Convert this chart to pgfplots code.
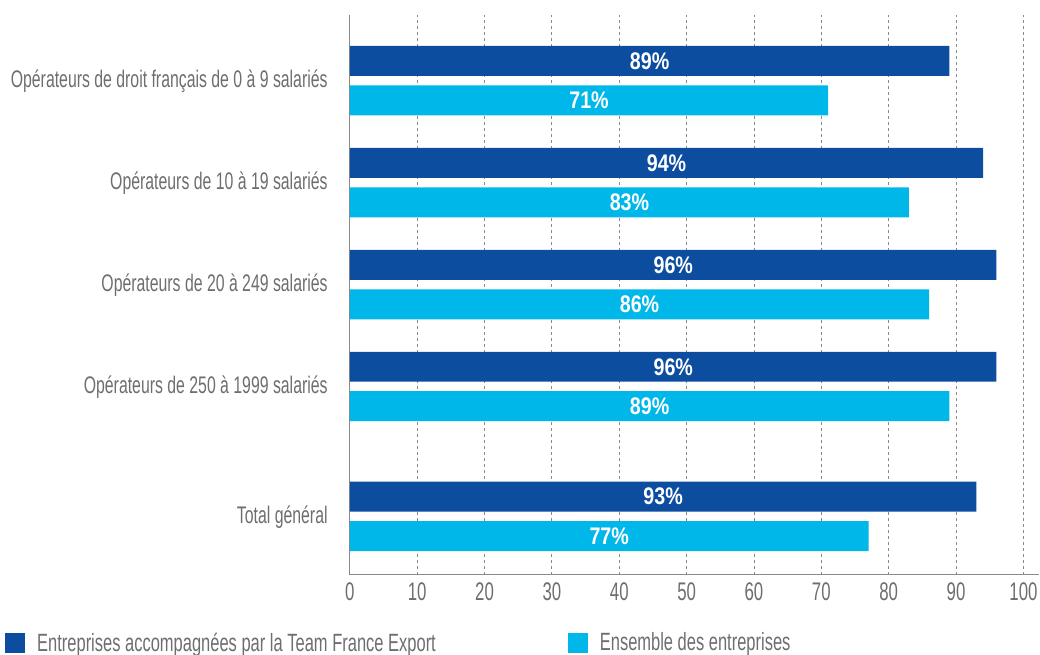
\documentclass[border=0pt]{standalone}
\usepackage{fontspec}
\setmainfont{Liberation Sans}[FakeStretch=0.66]
\newfontfamily\lblfont{Liberation Sans}[FakeStretch=0.82]
\usepackage{pgfplots}
\pgfplotsset{compat=1.18}
\definecolor{dblue}{HTML}{0C4DA0}
\definecolor{lblue}{HTML}{00B7EA}
\definecolor{tgray}{HTML}{6D6E70}
\definecolor{agray}{HTML}{8A8A8A}
\newcommand{\bigf}{\fontsize{24pt}{28pt}\selectfont}
\newcommand{\tickf}{\fontsize{25.5pt}{28pt}\selectfont}
\newcommand{\legf}{\fontsize{25pt}{28pt}\selectfont}
\begin{document}
\begin{tikzpicture}
\begin{axis}[
  at={(0,0)}, anchor=south west,
  xbar, scale only axis, width=690pt, height=560pt,
  xmin=0, xmax=102.37, ymin=-0.5686, ymax=4.922,
  axis lines=left,
  axis line style={-, draw=agray, line width=1.2pt},
  xtick={0,10,...,100}, major tick length=0pt,
  xmajorgrids, grid style={dashed, agray, line width=0.9pt},
  ytick={4.275,3.275,2.275,1.275,0},
  yticklabels={Opérateurs de droit français de 0 à 9 salariés,Opérateurs de 10 à 19 salariés,Opérateurs de 20 à 249 salariés,Opérateurs de 250 à 1999 salariés,Total général},
  /pgf/number format/assume math mode=true,
  yticklabel style={font=\bigf, text=tgray, inner sep=0pt},
  xticklabel style={font=\tickf, text=tgray, inner sep=0pt},
  yticklabel shift=22pt,
  xticklabel shift=8pt,
  bar width=30pt,
  point meta=x,
  visualization depends on={rawx \as \rawx},
  nodes near coords={\pgfmathprintnumber{\pgfplotspointmeta}\%},
  every node near coord/.append style={anchor=center, xshift={-3.369pt*\rawx}, font=\lblfont\bfseries\fontsize{24pt}{26pt}\selectfont, text=white, inner sep=0pt},
  legend columns=2,
  legend cell align=left,
  legend image code/.code={\fill[#1, draw=none] (0pt,-10pt) rectangle (20pt,10pt); \path (32pt,0pt);},
  legend style={at={(-0.5,-0.1214)}, anchor=west, draw=none, fill=none, inner sep=0pt, font=\legf, text=tgray, nodes={inner sep=0pt}, /tikz/every even column/.append style={column sep=11pt}},
]
\addplot[fill=dblue, draw=none, bar shift=20pt] coordinates {(89,4.275) (94,3.275) (96,2.275) (96,1.275) (93,0)};
\addlegendentry{\makebox[520pt][l]{Entreprises accompagnées par la Team France Export}}
\addplot[fill=lblue, draw=none, bar shift=-19.5pt] coordinates {(71,4.275) (83,3.275) (86,2.275) (89,1.275) (77,0)};
\addlegendentry{Ensemble des entreprises}
\end{axis}
\path (-350pt,-80pt) rectangle (690pt,575pt);
\end{tikzpicture}
\end{document}
